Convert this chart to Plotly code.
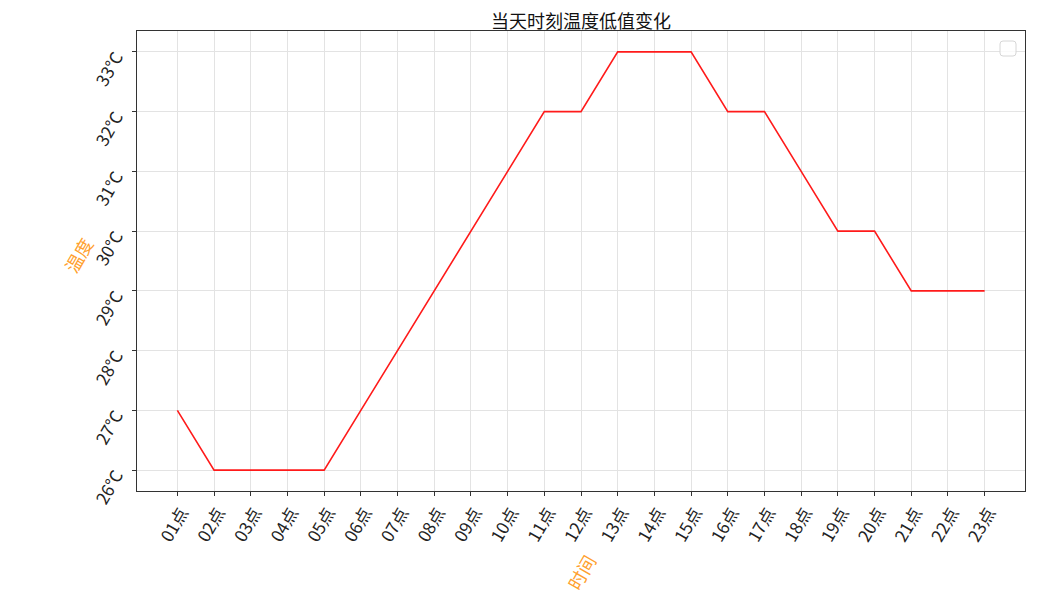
import plotly.graph_objects as go

hours = [f"{i:02d}点" for i in range(1, 24)]
temps = [27, 26, 26, 26, 26, 27, 28, 29, 30, 31, 32, 32, 33, 33, 33, 32, 32, 31, 30, 30, 29, 29, 29]
y_ticks = [26, 27, 28, 29, 30, 31, 32, 33]
y_labels = [f"{v}℃" for v in y_ticks]

FONT = "Noto Sans CJK SC"
OFF = 8  # page body margin
W, H = 1047 - 2 * OFF, 606 - 2 * OFF
# plot area in screen pixels
SX0, SX1, SY0, SY1 = 137, 1025, 31, 491
L, T = SX0 - OFF, SY0 - OFF
R, B = W - (SX1 - OFF), H - (SY1 - OFF)
pw, ph = SX1 - SX0, SY1 - SY0

def px(x): return (x - SX0) / pw
def py(y): return 1 - (y - SY0) / ph

fig = go.Figure()
fig.add_trace(go.Scatter(x=list(range(len(hours))), y=temps, mode="lines",
                         line=dict(color="#ff1a1a", width=1.6), showlegend=False))

axis_common = dict(showline=True, linecolor="#333333", linewidth=1.2, mirror=True,
                   showgrid=True, gridcolor="#e3e3e3", gridwidth=1,
                   ticks="outside", ticklen=4, tickcolor="#333333", automargin=False,
                   tickfont=dict(family=FONT, size=17, color="#222222"), zeroline=False)

fig.update_layout(
    width=W, height=H,
    margin=dict(l=L, r=R, t=T, b=B, autoexpand=False),
    plot_bgcolor="white", paper_bgcolor="white",
    xaxis=dict(range=[-1.1, 23.1], tickmode="array", tickvals=list(range(len(hours))),
               ticktext=hours, tickangle=-60, ticklabelshift=4, **axis_common),
    yaxis=dict(range=[25.65, 33.35], tickmode="array", tickvals=y_ticks,
               ticktext=y_labels, tickangle=-60, ticklabelstandoff=12, ticklabelshift=3,
               **axis_common),
)

fig.add_annotation(text="当天时刻温度低值变化", xref="paper", yref="paper",
                   x=px(581), y=py(20.5), showarrow=False, xanchor="center", yanchor="middle",
                   borderpad=0, font=dict(family=FONT, size=18, color="#111111"))
fig.add_annotation(text="时间", xref="paper", yref="paper",
                   x=px(581), y=py(572), showarrow=False, xanchor="center", yanchor="middle",
                   textangle=-60, font=dict(family=FONT, size=18, color="#ff9f2e"))
fig.add_annotation(text="温度", xref="paper", yref="paper",
                   x=px(78), y=py(255), showarrow=False, xanchor="center", yanchor="middle",
                   textangle=-60, font=dict(family=FONT, size=18, color="#ff9f2e"))

# empty legend box (rounded)
x0, x1, y0, y1 = 1000, 1016, 41, 56
r = 3
path = (f"M {px(x0 + r)},{py(y0)} L {px(x1 - r)},{py(y0)} Q {px(x1)},{py(y0)} {px(x1)},{py(y0 + r)} "
        f"L {px(x1)},{py(y1 - r)} Q {px(x1)},{py(y1)} {px(x1 - r)},{py(y1)} "
        f"L {px(x0 + r)},{py(y1)} Q {px(x0)},{py(y1)} {px(x0)},{py(y1 - r)} "
        f"L {px(x0)},{py(y0 + r)} Q {px(x0)},{py(y0)} {px(x0 + r)},{py(y0)} Z")
fig.add_shape(type="path", path=path, xref="paper", yref="paper",
              line=dict(color="#d6d6d6", width=1), fillcolor="rgba(255,255,255,0.8)")

fig.write_html("out.html")
